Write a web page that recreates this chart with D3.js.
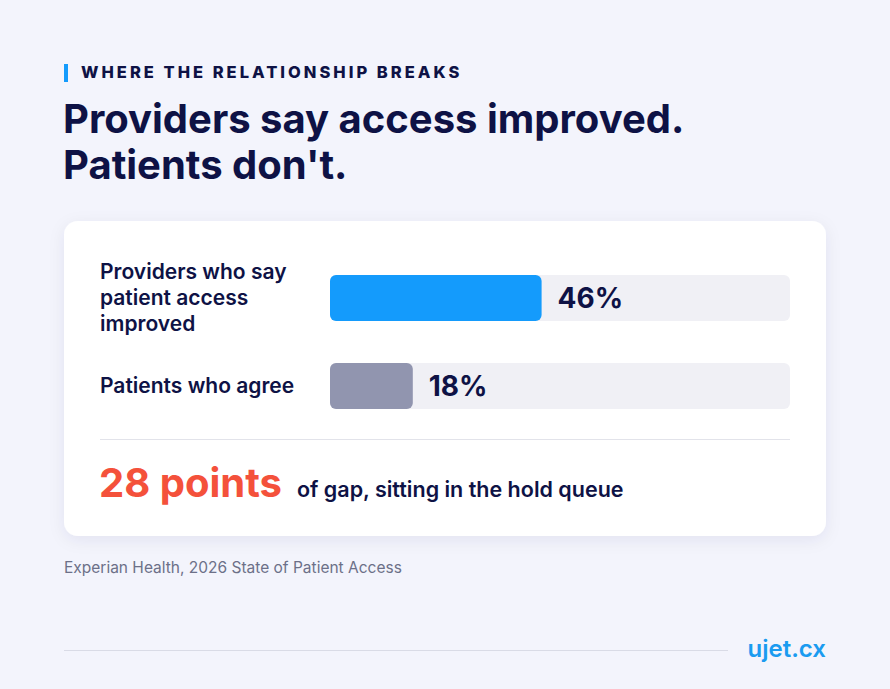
<!DOCTYPE html>
<html>
<head>
<meta charset="utf-8">
<script src="https://cdn.jsdelivr.net/npm/d3@7"></script>
<style>
  html, body { margin: 0; padding: 0; background: #f3f4fc; }
  svg { display: block; }
</style>
</head>
<body>
<div id="chart"></div>
<script>
// Data
const categories = [
  ["Providers who say", "patient access", "improved"],
  ["Patients who agree"]
];
const values = [46, 18];
const barColors = ["#149bfc", "#9195af"];
const gapValue = 28;

const width = 890;
const height = 689;
const navy = "#0e1245";
const font = "Inter, 'Open Sans', sans-serif";

const svg = d3.select("#chart")
  .append("svg")
  .attr("width", width)
  .attr("height", height);

svg.append("rect")
  .attr("width", width)
  .attr("height", height)
  .attr("fill", "#f3f4fc");

// Card shadow
const defs = svg.append("defs");
const filter = defs.append("filter")
  .attr("id", "shadow")
  .attr("x", "-10%").attr("y", "-10%")
  .attr("width", "120%").attr("height", "130%");
filter.append("feDropShadow")
  .attr("dx", 0).attr("dy", 4)
  .attr("stdDeviation", 8)
  .attr("flood-color", "#1c2260")
  .attr("flood-opacity", 0.07);

// Eyebrow
svg.append("rect")
  .attr("x", 64).attr("y", 64)
  .attr("width", 4).attr("height", 18)
  .attr("fill", "#149bfc");

svg.append("text")
  .attr("x", 81).attr("y", 78)
  .attr("font-family", font)
  .attr("font-weight", 800)
  .attr("font-size", 16.5)
  .attr("letter-spacing", 3)
  .attr("fill", navy)
  .text("WHERE THE RELATIONSHIP BREAKS");

// Title
const titleLines = ["Providers say access improved.", "Patients don't."];
svg.append("g")
  .selectAll("text")
  .data(titleLines)
  .join("text")
  .attr("x", 63)
  .attr("y", (d, i) => 133 + i * 46)
  .attr("font-family", font)
  .attr("font-weight", 700)
  .attr("font-size", 40)
  .attr("fill", navy)
  .text(d => d);

// Card
svg.append("rect")
  .attr("x", 64).attr("y", 221)
  .attr("width", 762).attr("height", 315)
  .attr("rx", 14)
  .attr("fill", "#ffffff")
  .attr("filter", "url(#shadow)");

// Scales
const x = d3.scaleLinear()
  .domain([0, 100])
  .range([330, 790]);

const y = d3.scaleBand()
  .domain(d3.range(values.length))
  .range([275, 409])
  .paddingInner(42 / 88);

const bars = svg.append("g")
  .selectAll("g")
  .data(values)
  .join("g");

// Track
bars.append("rect")
  .attr("x", x(0))
  .attr("y", (d, i) => y(i))
  .attr("width", x(100) - x(0))
  .attr("height", y.bandwidth())
  .attr("rx", 6)
  .attr("fill", "#f0f0f5");

// Value bar
bars.append("rect")
  .attr("x", x(0))
  .attr("y", (d, i) => y(i))
  .attr("width", d => x(d) - x(0))
  .attr("height", y.bandwidth())
  .attr("rx", 6)
  .attr("fill", (d, i) => barColors[i]);

// Value label
bars.append("text")
  .attr("x", d => x(d) + 16)
  .attr("y", (d, i) => y(i) + y.bandwidth() / 2)
  .attr("dy", "0.36em")
  .attr("font-family", font)
  .attr("font-weight", 700)
  .attr("font-size", 28)
  .attr("fill", navy)
  .text(d => d + "%");

// Category label
bars.append("text")
  .attr("font-family", font)
  .attr("font-weight", 600)
  .attr("font-size", 21)
  .attr("fill", navy)
  .each(function(d, i) {
    const lines = categories[i];
    const cy = y(i) + y.bandwidth() / 2;
    const lh = 26;
    const top = cy - (lines.length - 1) * lh / 2;
    d3.select(this).selectAll("tspan")
      .data(lines)
      .join("tspan")
      .attr("x", 100)
      .attr("y", (l, j) => top + j * lh)
      .attr("dy", "0.35em")
      .text(l => l);
  });

// Divider
svg.append("line")
  .attr("x1", 100).attr("x2", 790)
  .attr("y1", 439.5).attr("y2", 439.5)
  .attr("stroke", "#e2e3ea")
  .attr("stroke-width", 1);

// Gap callout
const gap = svg.append("text")
  .attr("x", 99).attr("y", 497)
  .attr("font-family", font)
  .attr("fill", navy);

gap.append("tspan")
  .attr("font-weight", 700)
  .attr("font-size", 40)
  .attr("fill", "#f4513b")
  .text(gapValue + " points");

gap.append("tspan")
  .attr("x", 297)
  .attr("font-weight", 600)
  .attr("font-size", 21.5)
  .text("of gap, sitting in the hold queue");

// Source
svg.append("text")
  .attr("x", 64).attr("y", 573)
  .attr("font-family", font)
  .attr("font-size", 15.5)
  .attr("fill", "#6c7088")
  .text("Experian Health, 2026 State of Patient Access");

// Footer
svg.append("line")
  .attr("x1", 64).attr("x2", 728)
  .attr("y1", 650.5).attr("y2", 650.5)
  .attr("stroke", "#d9dbe6")
  .attr("stroke-width", 1);

svg.append("text")
  .attr("x", 826).attr("y", 657)
  .attr("text-anchor", "end")
  .attr("font-family", font)
  .attr("font-weight", 600)
  .attr("font-size", 24)
  .attr("fill", "#1a9bf0")
  .text("ujet.cx");
</script>
</body>
</html>
